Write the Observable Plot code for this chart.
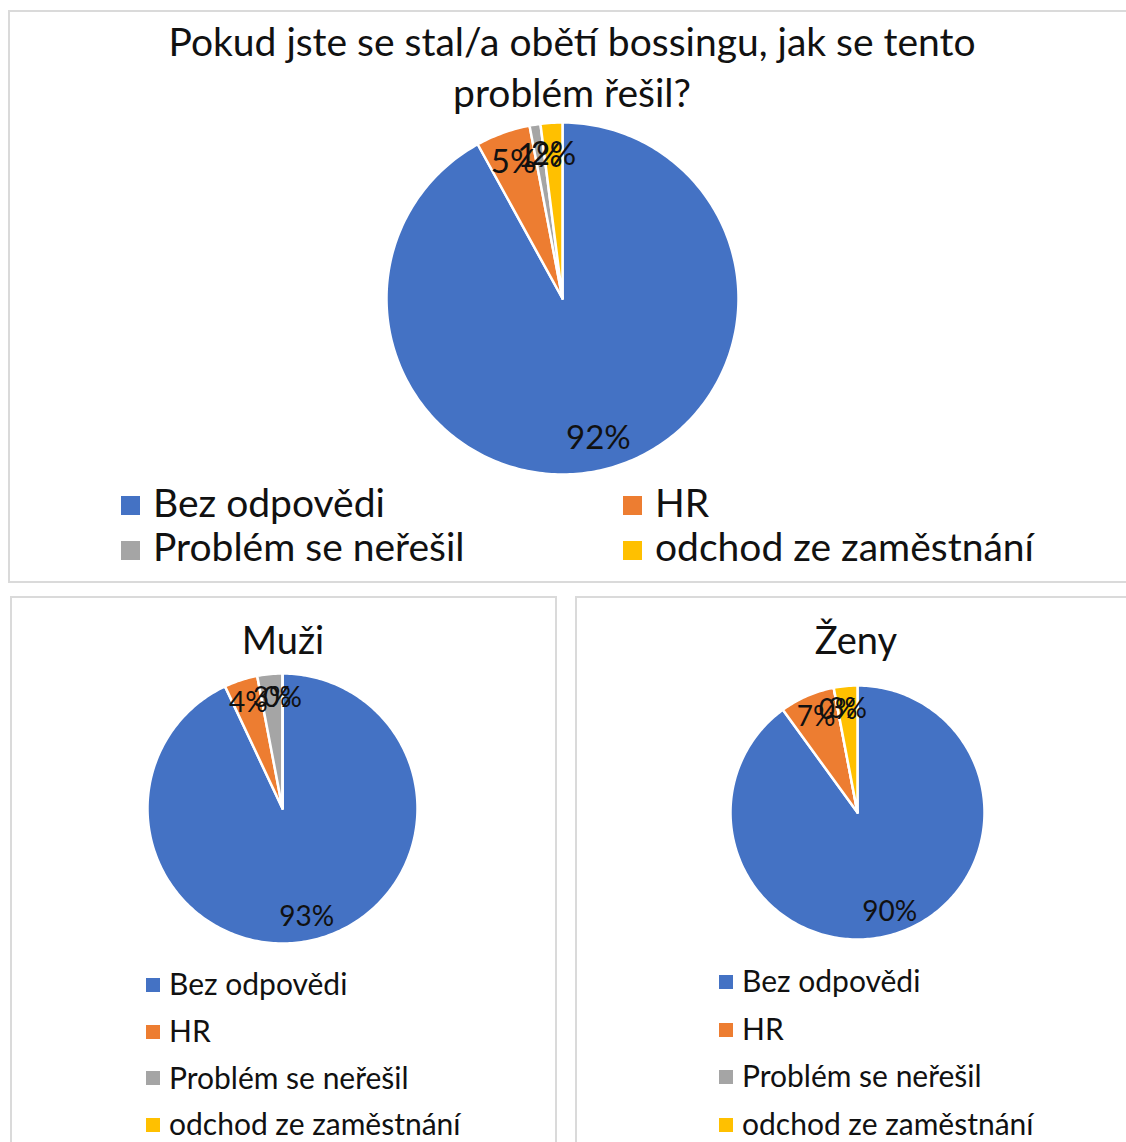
<!DOCTYPE html>
<html><head><meta charset="utf-8">
<script src="https://cdn.jsdelivr.net/npm/d3@7"></script>
<script src="https://cdn.jsdelivr.net/npm/@observablehq/plot@0.6"></script>
<style>
body{margin:0;background:#fff;font-family:Lato,"Noto Sans",sans-serif;color:#111;}
#page{position:relative;width:1126px;height:1142px;overflow:hidden;background:#fff;}
.panel{position:absolute;border:2px solid #dadada;box-sizing:border-box;}
.txt{position:absolute;white-space:nowrap;color:#111;}
.sw{position:absolute;}
.pie{position:absolute;}
</style></head><body><div id="page"></div>
<script>
// ---- data ----
const categories = ["Bez odpovědi", "HR", "Problém se neřešil", "odchod ze zaměstnání"];
const colors = ["#4472C4", "#ED7D31", "#A5A5A5", "#FFC000"];
const totalValues = [92, 5, 1, 2];
const menValues = [93, 4, 3, 0];
const womenValues = [90, 7, 0, 3];
const titleLines = ["Pokud jste se stal/a obětí bossingu, jak se tento", "problém řešil?"];
const menTitle = "Muži";
const womenTitle = "Ženy";

const page = document.getElementById("page");

function panel(l, t, w, h) {
  const d = document.createElement("div");
  d.className = "panel";
  Object.assign(d.style, {left: l + "px", top: t + "px", width: w + "px", height: h + "px"});
  page.appendChild(d);
}
// text positioned by baseline (Lato metrics)
function text(str, x, baseline, size, anchor) {
  const d = document.createElement("div");
  d.className = "txt";
  d.textContent = str;
  Object.assign(d.style, {
    left: x + "px", top: (baseline - 0.887 * size) + "px",
    fontSize: size + "px", lineHeight: size + "px",
    transform: anchor === "middle" ? "translateX(-50%)" : "none"
  });
  page.appendChild(d);
}
function swatch(x, y, s, c) {
  const d = document.createElement("div");
  d.className = "sw";
  Object.assign(d.style, {left: x + "px", top: y + "px", width: s + "px", height: s + "px", background: c});
  page.appendChild(d);
}

function pie(values, cx, cy, r, labelSize) {
  const W = 2 * r + 40, H = 2 * r + 40;
  const arcs = d3.pie().sort(null).value(d => d)(values);
  const rows = [];
  arcs.forEach((a, i) => {
    const key = categories[i];
    rows.push({key, x: 0, y: 0});
    const n = Math.max(2, Math.ceil((a.endAngle - a.startAngle) / (Math.PI / 180)));
    for (let k = 0; k <= n; k++) {
      const t = a.startAngle + (a.endAngle - a.startAngle) * k / n;
      rows.push({key, x: r * Math.sin(t), y: -r * Math.cos(t)});
    }
    rows.push({key, x: 0, y: 0});
  });
  const labels = arcs.map((a, i) => {
    const t = (a.startAngle + a.endAngle) / 2;
    return {key: categories[i], x: 0.82 * r * Math.sin(t), y: -0.82 * r * Math.cos(t), label: values[i] + "%"};
  });
  const svg = Plot.plot({
    width: W, height: H, margin: 0,
    style: "font-family: Lato, 'Noto Sans', sans-serif; background: transparent; overflow: visible;",
    x: {domain: [-W / 2, W / 2], range: [0, W], axis: null},
    y: {domain: [-H / 2, H / 2], range: [0, H], axis: null},
    color: {domain: categories, range: colors},
    marks: [
      Plot.line(rows, {x: "x", y: "y", z: "key", fill: "key", stroke: "white", strokeWidth: 2.5, strokeLinejoin: "round", curve: "linear"}),
      Plot.text(labels, {x: "x", y: "y", text: "label", fontSize: labelSize, fill: "#111"})
    ]
  });
  const wrap = document.createElement("div");
  wrap.className = "pie";
  Object.assign(wrap.style, {left: (cx - W / 2) + "px", top: (cy - H / 2) + "px"});
  wrap.appendChild(svg);
  page.appendChild(wrap);
}

// ---- top panel ----
panel(8, 10, 1130, 573);
text(titleLines[0], 572, 57, 39, "middle");
text(titleLines[1], 572, 108, 39, "middle");
pie(totalValues, 562, 298, 176, 33);
const topCols = [[121, 153], [623, 655]];
categories.forEach((c, i) => {
  const col = topCols[i % 2];
  const row = Math.floor(i / 2);
  swatch(col[0], 496 + row * 45, 19, colors[i]);
  text(c, col[1], 518 + row * 44, 39);
});

// ---- bottom-left: Muži ----
panel(10, 596, 547, 560);
text(menTitle, 283, 654, 38, "middle");
pie(menValues, 282, 808, 135, 28);
categories.forEach((c, i) => {
  swatch(146, 978 + i * 46.7, 14, colors[i]);
  text(c, 169, 995 + i * 46.7, 30);
});

// ---- bottom-right: Ženy ----
panel(575, 596, 560, 560);
text(womenTitle, 856, 654, 38, "middle");
pie(womenValues, 857, 812, 127, 28);
categories.forEach((c, i) => {
  swatch(719, 975 + i * 47.5, 14, colors[i]);
  text(c, 742, 992 + i * 47.5, 30);
});
</script></body></html>
